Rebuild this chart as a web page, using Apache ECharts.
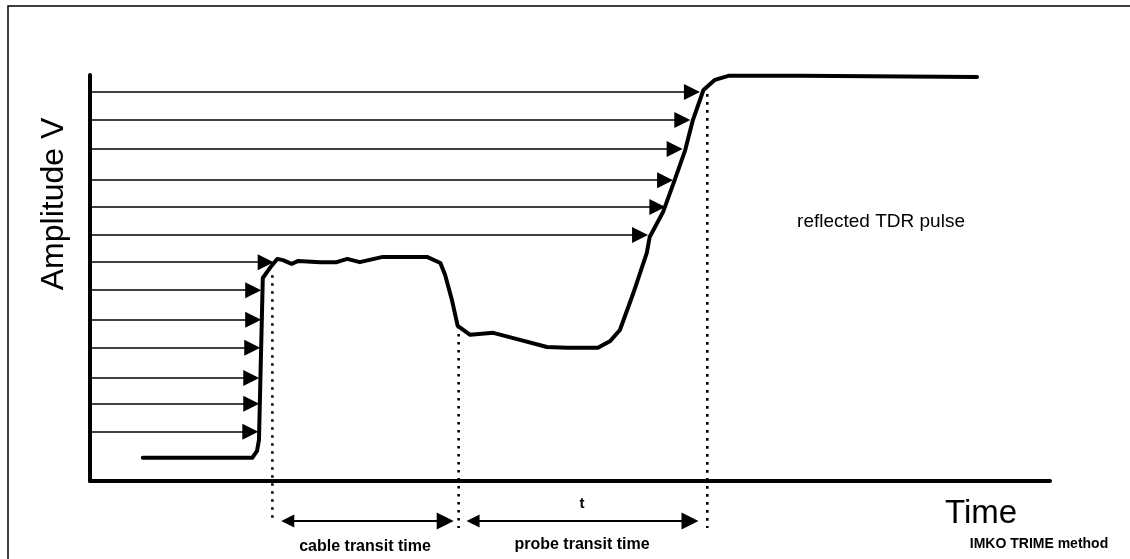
<!DOCTYPE html>
<html>
<head>
<meta charset="utf-8">
<title>TDR pulse</title>
<script src="https://cdn.jsdelivr.net/npm/echarts@6/dist/echarts.min.js"></script>
<style>
  html, body { margin: 0; padding: 0; background: #fff; }
  #chart { width: 1130px; height: 559px; }
</style>
</head>
<body>
<div id="chart"></div>
<script>
// reflected pulse, time vs amplitude (both 0..100 arbitrary units)
const pulseTime = [5.5, 16.9, 17.4, 17.6, 18.0, 18.75, 19.5, 20.1, 21.0, 21.7, 24.0, 25.7, 26.8, 28.1, 30.5, 32.8, 35.1, 36.5, 37.0, 37.7, 38.3, 39.6, 42.0, 44.1, 47.6, 49.7, 52.9, 54.2, 55.2, 56.6, 58.0, 58.3, 59.7, 60.9, 62.0, 62.8, 63.9, 65.1, 66.5, 74.0, 92.4];
const pulseAmp = [5.7, 5.7, 7.4, 10.1, 50.0, 52.5, 54.7, 54.4, 53.5, 54.2, 53.9, 53.9, 54.7, 53.9, 55.2, 55.2, 55.2, 53.7, 50.7, 44.6, 38.2, 36.0, 36.5, 35.2, 33.0, 32.8, 32.8, 34.5, 37.2, 46.3, 56.2, 60.1, 66.3, 74.1, 81.5, 88.9, 96.3, 98.8, 99.8, 99.8, 99.5];

// incident arrows: level and where the tip meets the pulse
const arrowLevels = [95.8, 88.9, 81.8, 74.1, 67.5, 60.6, 53.9, 47.0, 39.7, 32.8, 25.4, 19.0, 12.1];
const arrowTips = [63.5, 62.5, 61.7, 60.7, 59.9, 58.1, 19.1, 17.8, 17.8, 17.7, 17.6, 17.6, 17.5];
const arrowStart = 0.2;

// dotted time markers
const markerTimes = [19.0, 38.4, 64.3];
const markerTop = [50.7, 38.2, 95.3];
const markerBottom = [-9.1, -11.6, -11.6];

// transit time spans (below axis)
const spanNames = ["cable transit time", "probe transit time"];
const spanFrom = [19.8, 39.1];
const spanTo = [37.8, 63.3];
const spanLevel = -9.85;

const chart = echarts.init(document.getElementById("chart"));

const headOff = 0.8; // half arrow head, in time units

const arrowData = arrowLevels.map((y, i) => ({
  coords: [[arrowStart, y], [arrowTips[i] - headOff, y]]
}));

const spanData = spanFrom.map((x, i) => ({
  coords: [[x + headOff, spanLevel], [spanTo[i] - headOff, spanLevel]]
}));

const markerSeries = markerTimes.map((x, i) => ({
  type: "line",
  data: [[x, markerTop[i]], [x, markerBottom[i]]],
  showSymbol: false,
  clip: false,
  silent: true,
  lineStyle: { color: "#000", width: 2.6, type: [2.6, 5.4] }
}));

const option = {
  animation: false,
  backgroundColor: "#fff",
  grid: { left: 90, right: 80, top: 75, bottom: 78 },
  xAxis: {
    type: "value",
    min: 0,
    max: 100,
    axisLine: { onZero: false, lineStyle: { color: "#000", width: 4 } },
    axisTick: { show: false },
    axisLabel: { show: false },
    splitLine: { show: false }
  },
  yAxis: {
    type: "value",
    min: 0,
    max: 100,
    axisLine: { show: true, lineStyle: { color: "#000", width: 4 } },
    axisTick: { show: false },
    axisLabel: { show: false },
    splitLine: { show: false }
  },
  series: [
    {
      type: "lines",
      coordinateSystem: "cartesian2d",
      data: arrowData,
      symbol: ["none", "triangle"],
      symbolSize: [14, 16],
      clip: false,
      silent: true,
      lineStyle: { color: "#000", width: 1.5, opacity: 1, curveness: 0 }
    },
    {
      type: "lines",
      coordinateSystem: "cartesian2d",
      data: spanData,
      symbol: ["triangle", "triangle"],
      symbolSize: [13, 17],
      clip: false,
      silent: true,
      lineStyle: { color: "#000", width: 2, opacity: 1, curveness: 0 }
    },
    ...markerSeries,
    {
      type: "line",
      data: pulseTime.map((t, i) => [t, pulseAmp[i]]),
      showSymbol: false,
      silent: true,
      z: 5,
      lineStyle: { color: "#000", width: 4, join: "round", cap: "round" }
    }
  ],
  graphic: [
    {
      type: "rect",
      shape: { x: 8, y: 6, width: 1200, height: 700 },
      style: { fill: "none", stroke: "#000", lineWidth: 1.5 },
      silent: true
    },
    {
      type: "text",
      x: 54, y: 204, rotation: Math.PI / 2,
      style: { text: "Amplitude V", fontFamily: "Arial, Liberation Sans", fontSize: 32, fill: "#000", textAlign: "center", textVerticalAlign: "middle" }
    },
    {
      type: "text",
      x: 981, y: 514,
      style: { text: "Time", fontFamily: "Arial, Liberation Sans", fontSize: 33, fill: "#000", textAlign: "center", textVerticalAlign: "middle" }
    },
    {
      type: "text",
      x: 1039, y: 544,
      style: { text: "IMKO TRIME method", fontFamily: "Arial, Liberation Sans", fontWeight: "bold", fontSize: 14, fill: "#000", textAlign: "center", textVerticalAlign: "middle" }
    },
    {
      type: "text",
      x: 881, y: 222,
      style: { text: "reflected TDR pulse", fontFamily: "Arial, Liberation Sans", fontSize: 19, fill: "#000", textAlign: "center", textVerticalAlign: "middle" }
    },
    {
      type: "text",
      x: 582, y: 504,
      style: { text: "t", fontFamily: "Arial, Liberation Sans", fontWeight: "bold", fontSize: 15, fill: "#000", textAlign: "center", textVerticalAlign: "middle" }
    },
    {
      type: "text",
      x: 365, y: 547,
      style: { text: spanNames[0], fontFamily: "Arial, Liberation Sans", fontWeight: "bold", fontSize: 16, fill: "#000", textAlign: "center", textVerticalAlign: "middle" }
    },
    {
      type: "text",
      x: 582, y: 545,
      style: { text: spanNames[1], fontFamily: "Arial, Liberation Sans", fontWeight: "bold", fontSize: 16, fill: "#000", textAlign: "center", textVerticalAlign: "middle" }
    }
  ]
};

chart.setOption(option);
</script>
</body>
</html>
